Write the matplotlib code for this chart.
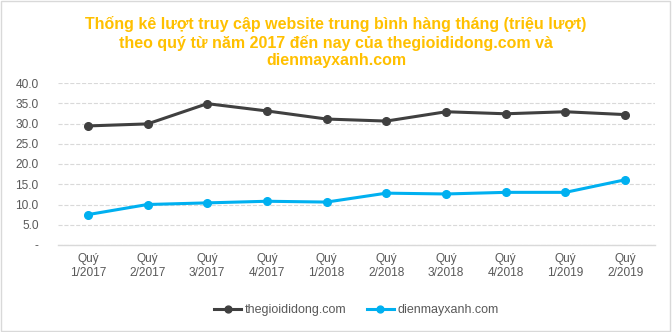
import matplotlib.pyplot as plt
import matplotlib as mpl

plt.rcParams['font.family'] = ['Liberation Sans', 'DejaVu Sans']

quy = ['Quý\n1/2017', 'Quý\n2/2017', 'Quý\n3/2017', 'Quý\n4/2017', 'Quý\n1/2018',
       'Quý\n2/2018', 'Quý\n3/2018', 'Quý\n4/2018', 'Quý\n1/2019', 'Quý\n2/2019']
tgdd = [29.4, 29.9, 34.9, 33.1, 31.1, 30.6, 32.9, 32.4, 32.9, 32.2]
dmx = [7.5, 10.0, 10.4, 10.8, 10.6, 12.8, 12.6, 13.0, 13.0, 16.1]
yticks = [0, 5, 10, 15, 20, 25, 30, 35, 40]
ylabels = ['-', '5.0', '10.0', '15.0', '20.0', '25.0', '30.0', '35.0', '40.0']

fig = plt.figure(figsize=(6.72, 3.32), dpi=100)
ax = fig.add_axes([58/672, 1-245/332, (655-58)/672, (245-83)/332])

x = range(len(quy))
ax.plot(x, tgdd, color='#404040', lw=2.2, marker='o', ms=5.5, label='thegioididong.com')
ax.plot(x, dmx, color='#00B0F0', lw=2.2, marker='o', ms=5.5, label='dienmayxanh.com')

ax.set_xlim(-0.5, len(quy)-0.5)
ax.set_ylim(0, 40)
ax.set_yticks(yticks)
ax.set_yticklabels(ylabels)
ax.set_xticks(list(x))
ax.set_xticklabels(quy)
ax.tick_params(length=0, labelsize=8.6, colors='#595959', pad=6)
ax.tick_params(axis='y', pad=14)
ax.grid(axis='y', color='#d9d9d9', ls='--', lw=0.8)
ax.set_axisbelow(True)
for s in ['top', 'right', 'left']:
    ax.spines[s].set_visible(False)
ax.spines['bottom'].set_color('#d9d9d9')
ax.spines['bottom'].set_linewidth(1)

fig.text(0.5, 1-42/332, 'Thống kê lượt truy cập website trung bình hàng tháng (triệu lượt)\n'
         'theo quý từ năm 2017 đến nay của thegioididong.com và\ndienmayxanh.com',
         ha='center', va='center', color='#FFC000', fontsize=11.5, fontweight='bold',
         linespacing=1.2)

ax.legend(loc='center', bbox_to_anchor=(0.5, 1-(310-83)/162), ncol=2, frameon=False,
          fontsize=9, labelcolor='#595959', handlelength=2.2, columnspacing=1.6,
          handletextpad=0.3, markerscale=0.9)

fig.add_artist(mpl.patches.Rectangle((0.002, 0.003), 0.995, 0.994, transform=fig.transFigure,
                                     fill=False, ec='#d9d9d9', lw=1))

fig.savefig('out.png', dpi=100)
